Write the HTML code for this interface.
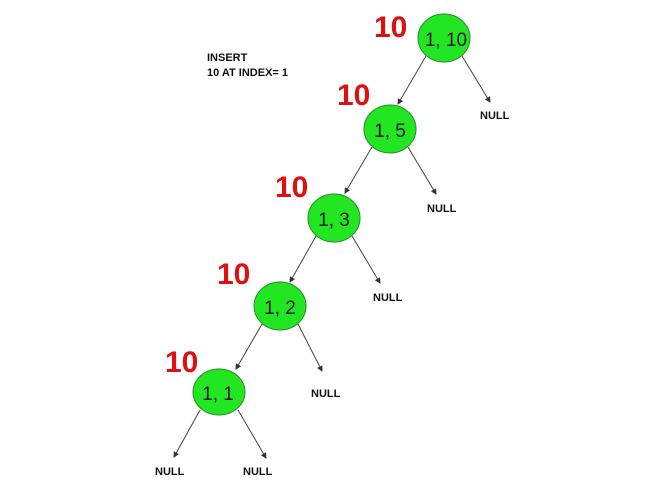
<!DOCTYPE html>
<html><head><style>body{margin:0;background:#fff}svg{display:block}</style></head>
<body>
<svg width="660" height="495" viewBox="0 0 660 495" xmlns="http://www.w3.org/2000/svg" font-family="Liberation Sans, Arial, sans-serif">
<defs><marker id="a" markerWidth="6" markerHeight="6" refX="5" refY="3" orient="auto"><path d="M0,0 L6,3 L0,6 z" fill="#333"/></marker></defs>
<g stroke="#444" stroke-width="1" marker-end="url(#a)">
<line x1="426" y1="56" x2="398" y2="104"/><line x1="462" y1="56" x2="490" y2="102"/>
<line x1="372" y1="147" x2="345" y2="193"/><line x1="408" y1="147" x2="436" y2="194"/>
<line x1="316" y1="236" x2="290" y2="282"/><line x1="352" y1="236" x2="380" y2="283"/>
<line x1="262" y1="324" x2="236" y2="369"/><line x1="298" y1="324" x2="322" y2="371"/>
<line x1="200" y1="410" x2="174" y2="457"/><line x1="238" y1="410" x2="266" y2="458"/>
</g>
<g fill="#22e622" stroke="#2b8a2b" stroke-width="1">
<ellipse cx="444" cy="38" rx="26" ry="24"/>
<ellipse cx="390" cy="129" rx="26" ry="24"/>
<ellipse cx="334" cy="218" rx="26" ry="24"/>
<ellipse cx="280" cy="306" rx="26" ry="24"/>
<ellipse cx="219" cy="392" rx="26" ry="23"/>
</g>
<g font-size="19" fill="#1a1a1a" text-anchor="middle">
<text x="446" y="46">1, 10</text><text x="390" y="137">1, 5</text><text x="334" y="226">1, 3</text><text x="280" y="314">1, 2</text><text x="218" y="400">1, 1</text>
</g>
<g font-size="30" font-weight="bold" fill="#e01010">
<text x="374" y="37">10</text><text x="337" y="105">10</text><text x="275" y="197">10</text><text x="217" y="284">10</text><text x="165" y="372">10</text>
</g>
<g font-size="11" font-weight="bold" fill="#111">
<text x="480" y="119">NULL</text><text x="427" y="212">NULL</text><text x="373" y="301">NULL</text><text x="311" y="397">NULL</text><text x="155" y="475">NULL</text><text x="243" y="475">NULL</text>
<text x="207" y="61">INSERT</text><text x="207" y="76">10 AT INDEX= 1</text>
</g>
</svg>
</body></html>
